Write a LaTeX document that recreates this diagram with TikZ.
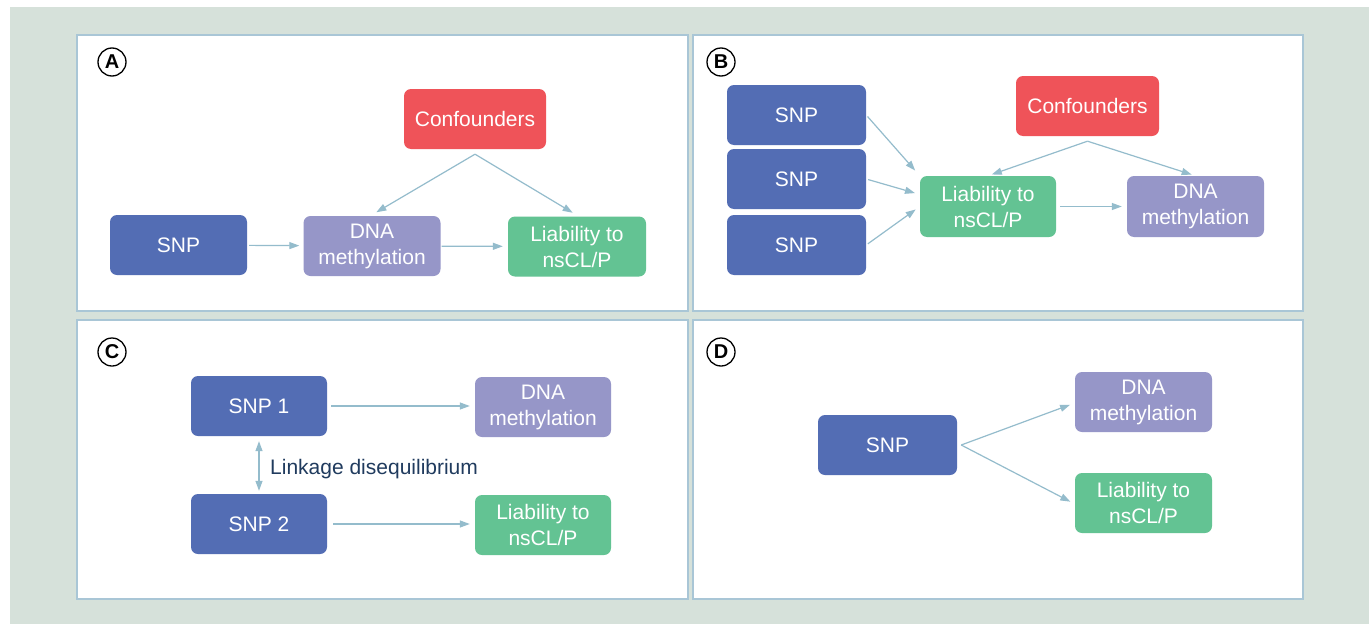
\documentclass[tikz,border=0pt]{standalone}
\usepackage{fontspec}
\setmainfont{Liberation Sans}
\usetikzlibrary{arrows.meta}
\definecolor{bgc}{HTML}{D6E1DA}
\definecolor{framec}{HTML}{A9C6D6}
\definecolor{arrc}{HTML}{94BCCC}
\definecolor{snpc}{HTML}{536DB4}
\definecolor{dnac}{HTML}{9696C8}
\definecolor{libc}{HTML}{63C393}
\definecolor{confc}{HTML}{EF5359}
\definecolor{labc}{HTML}{203B5E}
\tikzset{
  box/.style={rectangle, rounded corners=7pt, text=white, align=center,
    font=\fontsize{21}{26}\selectfont, inner sep=0pt, minimum width=137pt, minimum height=60pt},
  snpbox/.style={box, fill=snpc},
  dnabox/.style={box, fill=dnac},
  libbox/.style={box, fill=libc},
  confbox/.style={box, fill=confc, minimum width=142pt},
  panel/.style={draw=framec, line width=1.5pt, fill=white},
  arr/.style={draw=arrc, line width=1.2pt, -{Triangle[length=10pt,width=7pt]}},
  darr/.style={draw=arrc, line width=1.2pt, {Triangle[length=10pt,width=7pt]}-{Triangle[length=10pt,width=7pt]}},
  plabel/.style={circle, draw=black, line width=1.3pt, minimum size=28pt, inner sep=0pt,
    font=\fontsize{20}{20}\selectfont\bfseries},
  ldlabel/.style={text=labc, font=\fontsize{21}{26}\selectfont, anchor=west, inner sep=0pt}
}
\begin{document}
\begin{tikzpicture}[x=1pt,y=-1pt]
\useasboundingbox (0,0) rectangle (1369,624);
\fill[white] (0,0) rectangle (1369,624);
\fill[bgc] (10,7) rectangle (1369,624);
% panels
\draw[panel] (77,35) rectangle (688,311);
\draw[panel] (693,35) rectangle (1303,311);
\draw[panel] (77,320) rectangle (688,599);
\draw[panel] (693,320) rectangle (1303,599);
% panel labels
\node[plabel] (labA) at (112,62) {A};
\node[plabel] (labB) at (721,62) {B};
\node[plabel] (labC) at (112,352) {C};
\node[plabel] (labD) at (721,352) {D};
% Panel A
\node[confbox] (confA) at (475,119) {Confounders};
\node[snpbox] (snpA) at (178.5,245) {SNP};
\node[dnabox] (dnaA) at (372,246) {DNA\\methylation};
\node[libbox, minimum width=138pt] (libA) at (577,246.5) {Liability to\\nsCL/P};
\coordinate (apA) at ([yshift=-5pt]confA.south);
\draw[arr, shorten <=2pt, shorten >=4pt] (snpA) -- (dnaA);
\draw[arr, shorten <=1pt, shorten >=5pt] (dnaA) -- (libA);
\draw[arr, shorten >=5pt] (apA) -- ([yshift=1pt]dnaA.north);
\draw[arr, shorten >=5pt] (apA) -- ([yshift=1pt]libA.north);
% Panel B
\node[snpbox, minimum width=139pt] (snpB1) at (796.5,115) {SNP};
\node[snpbox, minimum width=139pt] (snpB2) at (796.5,179) {SNP};
\node[snpbox, minimum width=139pt] (snpB3) at (796.5,245) {SNP};
\node[libbox, minimum width=136pt, minimum height=61pt] (libB) at (988,206.5) {Liability to\\nsCL/P};
\node[confbox, minimum width=143pt] (confB) at (1087.5,106) {Confounders};
\node[dnabox, minimum height=61pt] (dnaB) at (1195.5,206.5) {DNA\\methylation};
\coordinate (apB) at ([yshift=-5pt]confB.south);
\draw[arr, shorten <=2pt, shorten >=7pt] (snpB1.east) -- (libB.north west);
\draw[arr, shorten <=2pt, shorten >=5pt] (snpB2.east) -- (libB.170);
\draw[arr, shorten <=2pt, shorten >=5pt] (snpB3.east) -- (libB.west);
\draw[arr, shorten >=4pt] (apB) -- (libB.north);
\draw[arr, shorten >=4pt] (apB) -- (dnaB.north);
\draw[arr, shorten <=4pt, shorten >=5pt] (libB) -- (dnaB);
% Panel C
\node[snpbox, minimum width=136pt] (snpC1) at (259,406) {SNP 1};
\node[snpbox, minimum width=136pt] (snpC2) at (259,524) {SNP 2};
\node[dnabox, minimum width=136pt] (dnaC) at (543,407) {DNA\\methylation};
\node[libbox, minimum width=136pt] (libC) at (543,525) {Liability to\\nsCL/P};
\draw[arr, shorten <=4pt, shorten >=5pt] (snpC1) -- (dnaC.west |- snpC1);
\draw[arr, shorten <=6pt, shorten >=5pt] (snpC2) -- (libC.west |- snpC2);
\draw[darr, shorten <=5pt, shorten >=3pt] (snpC1.south) -- (snpC2.north);
\node[ldlabel] (ld) at (270,469) {Linkage disequilibrium};
% Panel D
\node[snpbox, minimum width=139pt] (snpD) at (887.5,445) {SNP};
\node[dnabox] (dnaD) at (1143.5,402) {DNA\\methylation};
\node[libbox] (libD) at (1143.5,503) {Liability to\\nsCL/P};
\coordinate (spD) at ([xshift=4pt]snpD.east);
\draw[arr, shorten >=5pt] (spD) -- ([yshift=-1pt]dnaD.west);
\draw[arr, shorten >=5pt] (spD) -- ([yshift=-1pt]libD.west);
\end{tikzpicture}
\end{document}
